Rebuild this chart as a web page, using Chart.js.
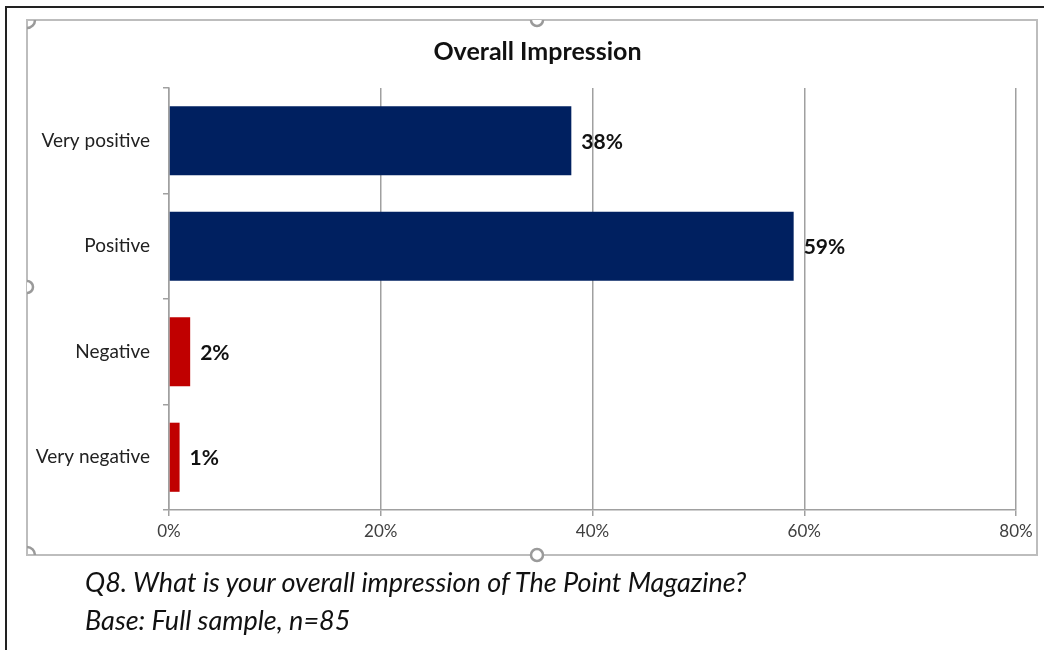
<!DOCTYPE html>
<html>
<head>
<meta charset="utf-8">
<script src="https://cdn.jsdelivr.net/npm/chart.js@4"></script>
<style>
  html, body { margin: 0; padding: 0; background: #fff; }
  #wrap { position: relative; width: 1044px; height: 650px; overflow: hidden; }
  #chart { position: absolute; left: 0; top: 0; }
  #title {
    position: absolute; left: 0; width: 1075px; top: 35px; text-align: center;
    font-family: Lato, "Open Sans", sans-serif; font-weight: bold;
    font-size: 25px; line-height: 30px; color: #111;
  }
  #caption {
    position: absolute; left: 85px; top: 563px;
    font-family: Lato, "Open Sans", sans-serif; font-style: italic;
    font-size: 27px; line-height: 38px; color: #111; white-space: nowrap;
  }
</style>
</head>
<body>
<div id="wrap">
  <canvas id="chart" width="1044" height="650"></canvas>
  <div id="title">Overall Impression</div>
  <div id="caption">Q8. What is your overall impression of The Point Magazine?<br>Base: Full sample, n=85</div>
</div>
<script>
const categories = ['Very positive', 'Positive', 'Negative', 'Very negative'];
const values = [38, 59, 2, 1];
const barColors = ['#002060', '#002060', '#C00000', '#C00000'];
const xTicks = [0, 20, 40, 60, 80];

const FONT = 'Lato, "Open Sans", sans-serif';

// frame, border and selection handles around the chart
const framePlugin = {
  id: 'frame',
  beforeDraw(chart) {
    const ctx = chart.ctx;
    ctx.save();
    ctx.strokeStyle = '#222';
    ctx.lineWidth = 2;
    ctx.beginPath();
    ctx.moveTo(6, 650); ctx.lineTo(6, 7); ctx.lineTo(1044, 7);
    ctx.stroke();

    ctx.strokeStyle = '#bdbdbd';
    ctx.lineWidth = 2;
    ctx.strokeRect(27, 20, 1010, 535);
    ctx.restore();
  },
  afterDraw(chart) {
    const ctx = chart.ctx;
    ctx.save();
    ctx.strokeStyle = '#9a9a9a';
    ctx.lineWidth = 2.5;
    const arc = (x, y, r, a0, a1, fill) => {
      ctx.beginPath();
      ctx.arc(x, y, r, a0, a1);
      if (fill) { ctx.fillStyle = '#fff'; ctx.fill(); }
      ctx.stroke();
    };
    arc(27, 20, 8, 0, Math.PI / 2);
    arc(27, 555, 8, -Math.PI / 2, 0);
    arc(537, 20, 6, 0, Math.PI, true);
    arc(27, 287, 6, -Math.PI / 2, Math.PI / 2, true);
    arc(537, 555, 6, 0, Math.PI * 2, true);
    ctx.restore();
  }
};

// value labels at the end of each bar
const labelPlugin = {
  id: 'barLabels',
  afterDatasetsDraw(chart) {
    const ctx = chart.ctx;
    const meta = chart.getDatasetMeta(0);
    ctx.save();
    ctx.font = 'bold 21px ' + FONT;
    ctx.fillStyle = '#111';
    ctx.textAlign = 'left';
    ctx.textBaseline = 'middle';
    meta.data.forEach((bar, i) => {
      ctx.fillText(values[i] + '%', bar.x + 10, bar.y + 1);
    });
    ctx.restore();
  }
};

new Chart(document.getElementById('chart'), {
  type: 'bar',
  data: {
    labels: categories,
    datasets: [{
      data: values,
      backgroundColor: barColors,
      categoryPercentage: 1,
      barPercentage: 0.655
    }]
  },
  options: {
    indexAxis: 'y',
    responsive: false,
    animation: false,
    layout: { padding: { left: 27, right: 28, top: 88, bottom: 95 } },
    plugins: {
      legend: { display: false },
      tooltip: { enabled: false },
      title: { display: false }
    },
    scales: {
      x: {
        min: 0,
        max: 80,
        afterBuildTicks: s => { s.ticks = xTicks.map(v => ({ value: v })); },
        afterFit: s => { s.height = 45; },
        border: { color: '#a0a0a0', width: 1.5 },
        grid: { color: '#a0a0a0', lineWidth: 1.5, drawTicks: true, tickLength: 6 },
        ticks: {
          padding: 5,
          color: '#404040',
          font: { family: FONT, size: 17 },
          callback: v => v + '%'
        }
      },
      y: {
        afterFit: s => { s.width = 142; },
        border: { color: '#a0a0a0', width: 1.5 },
        grid: { color: '#a0a0a0', lineWidth: 1.5, drawOnChartArea: false, drawTicks: true, tickLength: 6 },
        ticks: {
          padding: 13,
          color: '#222',
          font: { family: FONT, size: 19 }
        }
      }
    }
  },
  plugins: [framePlugin, labelPlugin]
});
</script>
</body>
</html>
